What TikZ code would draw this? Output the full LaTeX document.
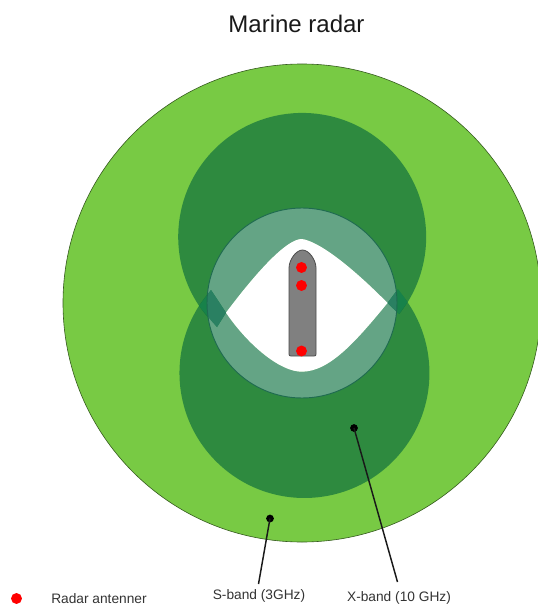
\documentclass[tikz,border=0pt]{standalone}
\usepackage{fontspec}
\setmainfont{Liberation Sans}
\definecolor{lightgreen}{HTML}{78CA44}
\definecolor{lobe}{RGB}{15,112,61}
\definecolor{ringtint}{RGB}{183,205,238}
\definecolor{ringedge}{HTML}{1F6B50}
\definecolor{shipgray}{HTML}{808080}
\definecolor{overlapout}{HTML}{17824A}
\definecolor{overlapin}{HTML}{2A8062}
\tikzset{
  wholearea/.style={fill=lightgreen,draw=black!55!lightgreen,line width=0.45pt},
  lobeshape/.style={fill=lobe,fill opacity=0.7},
  ringshape/.style={fill=ringtint,fill opacity=0.4},
  ringline/.style={draw=ringedge,line width=0.7pt},
  shipshape/.style={fill=shipgray,draw=black!70,line width=0.6pt},
  antenna/.style={circle,fill=red,inner sep=0pt,minimum size=8.2pt},
  leaderdot/.style={circle,fill=black,inner sep=0pt,minimum size=5.8pt},
  leader/.style={draw=black!90,line width=1.1pt},
  lbl/.style={inner sep=0pt,text=black!80,font=\fontsize{10.3}{12}\selectfont},
}
\begin{document}
\begin{tikzpicture}[x=0.75pt,y=-0.75pt]
\useasboundingbox (0,0) rectangle (538,606);
\begin{scope}
\clip (0,0) rectangle (538,606);
\path[wholearea] (302,303) circle[radius=239];
\end{scope}
% lens outline points
\coordinate (tipL) at (226,312.7);
\coordinate (tipR) at (387.5,303);
\coordinate (lensT) at (301.7,239);
\coordinate (lensB) at (301.7,371.7);
% upper lobe
\path[lobeshape] (217,327) arc[start angle=133.4,end angle=398.4,radius=124]
  -- (tipR) .. controls (350,265) and (318,241) .. (lensT)
  .. controls (287,239) and (258,270) .. (tipL) -- cycle;
% lower lobe
\path[lobeshape] (211,290) arc[start angle=221.6,end angle=-41.9,radius=125]
  -- (tipR) .. controls (357,340) and (330,371.7) .. (lensB)
  .. controls (280,371.7) and (248,345) .. (tipL) -- cycle;
% inner ring
\path[ringshape] (302,303) circle[radius=95];
% overlaps of the two lobes, outside and inside the ring
\path[fill=overlapout] (211,290) -- (199,306) -- (217,327) -- (tipL) -- cycle;
\path[fill=overlapout] (398,289) -- (407.5,302) -- (399,314) -- (tipR) -- cycle;
\begin{scope}
\clip (302,303) circle[radius=95];
\path[fill=overlapin] (211,290) -- (199,306) -- (217,327) -- (tipL) -- cycle;
\path[fill=overlapin] (398,289) -- (407.5,302) -- (399,314) -- (tipR) -- cycle;
\end{scope}
\path[ringline] (302,303) circle[radius=95];
% white lens
\path[fill=white] (tipL) .. controls (258,270) and (287,239) .. (lensT)
  .. controls (318,241) and (350,265) .. (tipR)
  .. controls (357,340) and (330,371.7) .. (lensB)
  .. controls (280,371.7) and (248,345) .. (tipL) -- cycle;
% ship
\path[shipshape] (289,268) .. controls (289,260) and (296,250) .. (302.5,250)
  .. controls (309,250) and (316,260) .. (316,268)
  -- (316,354) .. controls (316,355.5) and (315.5,356) .. (314,356)
  -- (291,356) .. controls (289.5,356) and (289,355.5) .. (289,354) -- cycle;
% antennas
\node[antenna] (a1) at (301.5,267.5) {};
\node[antenna] (a2) at (301.5,285.5) {};
\node[antenna] (a3) at (301.5,351) {};
% legend and labels
\node[antenna] (legdot) at (16.5,598.5) {};
\node[lbl,anchor=west] (legtxt) at (51,598.5) {Radar antenner};
\node[lbl] (sband) at (259,596) {S-band (3GHz)};
\node[lbl] (xband) at (399,598) {X-band (10 GHz)};
\node[font=\fontsize{18}{22}\selectfont,text=black!90,inner sep=0pt] (title) at (296.5,24) {Marine radar};
% leaders
\node[leaderdot] (sdot) at (270,518.5) {};
\node[leaderdot] (xdot) at (354,428) {};
\coordinate (send) at (258.5,584);
\coordinate (xend) at (397.5,582);
\draw[leader] (sdot.center) -- (send);
\draw[leader] (xdot.center) -- (xend);
\end{tikzpicture}
\end{document}
